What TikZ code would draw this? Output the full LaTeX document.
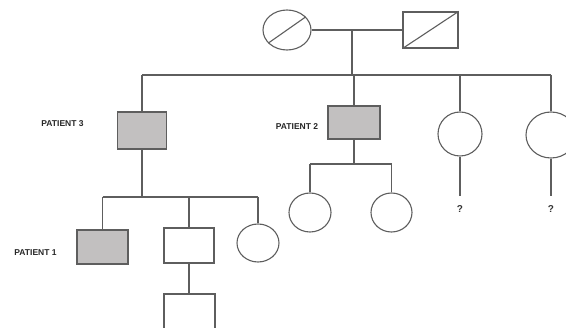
\documentclass[tikz,border=0pt]{standalone}
\usepackage{fontspec}
\setmainfont{Liberation Sans}
\usetikzlibrary{shapes.geometric,calc}
\definecolor{lc}{HTML}{5E5E5E}
\definecolor{af}{HTML}{C2C0C0}
\begin{document}
\begin{tikzpicture}[x=1pt,y=-1pt,line width=1.1pt,
  male/.style={rectangle,draw=lc,inner sep=0pt,fill=white},
  female/.style={ellipse,draw=lc,inner sep=0pt,fill=white},
  affected/.style={fill=af},
  conn/.style={draw=lc,line width=1.1pt},
  lbl/.style={font=\fontsize{8.5}{9}\selectfont\bfseries,text=black!85,inner sep=0pt},
  qm/.style={font=\fontsize{10}{11}\selectfont\bfseries,text=black!80,inner sep=0pt}]
\useasboundingbox (0,0) rectangle (566,328);
\begin{scope}
\clip (0,0) rectangle (566,328);
% generation I
\node[female,minimum width=48pt,minimum height=40pt] (gm) at (287,30) {};
\node[male,minimum width=55pt,minimum height=36pt] (gf) at (430.5,30) {};
\draw[conn] (gm.215) -- (gm.35);
\draw[conn] (gf.south west) -- (gf.north east);
% generation II
\node[male,affected,minimum width=49pt,minimum height=37pt] (p3) at (142,130.5) {};
\node[male,affected,minimum width=52pt,minimum height=33pt] (p2) at (354,122.5) {};
\node[female,minimum width=44pt,minimum height=44pt] (d3) at (460,134) {};
\node[female,minimum width=50pt,minimum height=46pt] (d4) at (551,135) {};
% generation III
\node[male,affected,minimum width=51pt,minimum height=34pt] (p1) at (102.5,247) {};
\node[male,minimum width=50pt,minimum height=35pt] (s2) at (189,245.5) {};
\node[female,minimum width=42pt,minimum height=38pt] (c1) at (258,243) {};
\node[female,minimum width=42pt,minimum height=39pt] (g1) at (310,212.5) {};
\node[female,minimum width=41pt,minimum height=39pt] (g2) at (391.5,212.5) {};
% generation IV
\node[male,minimum width=51pt,minimum height=36pt] (gs) at (189.5,312) {};
% question marks
\node[qm] (q3) at (460,209) {?};
\node[qm] (q4) at (551,209) {?};
% labels
\node[lbl] (l3) at (62.5,124) {PATIENT 3};
\node[lbl] (l2) at (297,127) {PATIENT 2};
\node[lbl] (l1) at (35.5,253) {PATIENT 1};
% junctions
\coordinate (m1) at (352,30);
\coordinate (s1) at (352,75);
\coordinate (sl) at (142,75);
\coordinate (sr) at (551,75);
\coordinate (k3) at (142,197);
\coordinate (k3l) at (102.5,197);
\coordinate (k3r) at (258,197);
\coordinate (k2) at (354,164);
\coordinate (k2l) at (310,164);
\coordinate (k2r) at (391.5,164);
\coordinate (e3) at (460,196);
\coordinate (e4) at (551,196);
% connectors
\draw[conn] (gm.east) -- (gf.west);
\draw[conn] (m1) -- (s1);
\draw[conn] (sl) -- (sr);
\draw[conn] (sl) -- (p3.north);
\draw[conn] (p2.north |- s1) -- (p2.north);
\draw[conn] (d3.north |- s1) -- (d3.north);
\draw[conn] (sr) -- (d4.north);
\draw[conn] (d3.south) -- (e3);
\draw[conn] (d4.south) -- (e4);
\draw[conn] (p3.south) -- (k3);
\draw[conn] (k3l) -- (k3r);
\draw[conn] (k3l) -- (p1.north);
\draw[conn] (s2.north |- k3) -- (s2.north);
\draw[conn] (k3r) -- (c1.north);
\draw[conn] (s2.south) -- (gs.north -| s2.south);
\draw[conn] (p2.south) -- (k2);
\draw[conn] (k2l) -- (k2r);
\draw[conn] (k2l) -- (g1.north);
\draw[conn] (k2r) -- (g2.north);
\end{scope}
\end{tikzpicture}
\end{document}
